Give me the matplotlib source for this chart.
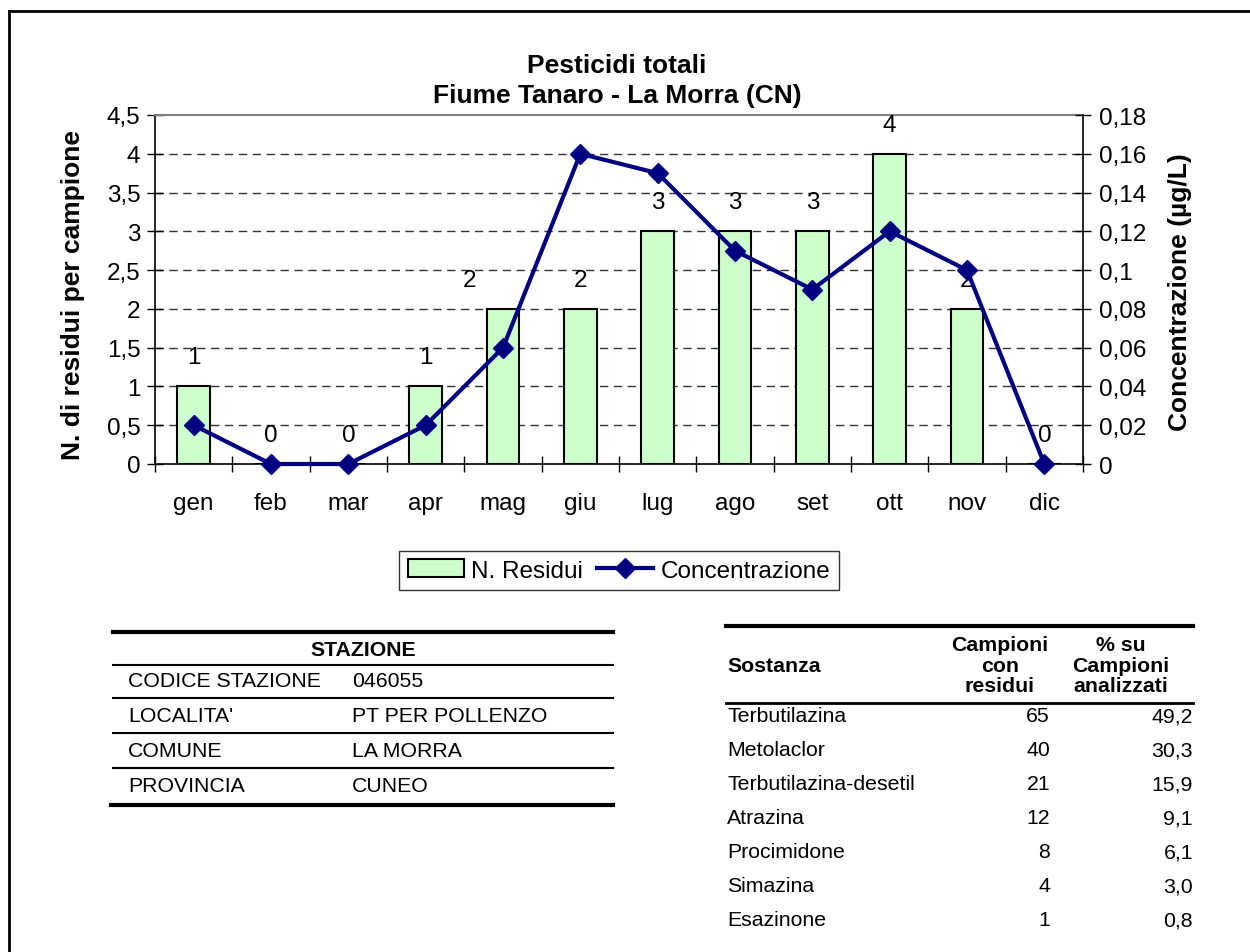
"""Pesticidi totali - Fiume Tanaro, La Morra (CN): residui e concentrazione mensile."""

import matplotlib

matplotlib.use("Agg")
import matplotlib.pyplot as plt
import numpy as np
from matplotlib.lines import Line2D

plt.rcParams["font.family"] = ["Liberation Sans", "DejaVu Sans"]

W, H = 1250, 953
_GREEN = "#ccffcc"
_NAVY = "#000080"

# data
mesi = ["gen", "feb", "mar", "apr", "mag", "giu", "lug", "ago", "set", "ott", "nov", "dic"]
n_residui = [1, 0, 0, 1, 2, 2, 3, 3, 3, 4, 2, 0]
concentrazione = [0.02, 0.0, 0.0, 0.02, 0.06, 0.16, 0.15, 0.11, 0.09, 0.12, 0.10, 0.0]

stazione_campi = ["CODICE STAZIONE", "LOCALITA'", "COMUNE", "PROVINCIA"]
stazione_valori = ["046055", "PT PER POLLENZO", "LA MORRA", "CUNEO"]

sostanze = ["Terbutilazina", "Metolaclor", "Terbutilazina-desetil", "Atrazina",
            "Procimidone", "Simazina", "Esazinone"]
campioni_residui = [65, 40, 21, 12, 8, 4, 1]
perc_campioni = [49.2, 30.3, 15.9, 9.1, 6.1, 3.0, 0.8]

_TICK_FS = 17.5
_AXT_FS = 19
_TAB_FS = 15.3


def fx(px):
    return px / W


def fy(py):
    return 1 - py / H


def hline(fig, x0, x1, y, lw):
    fig.add_artist(Line2D([fx(x0), fx(x1)], [fy(y), fy(y)], color="black",
                          linewidth=lw, transform=fig.transFigure))


def comma(v):
    return f"{v:g}".replace(".", ",")


fig = plt.figure(figsize=(W / 100, H / 100), dpi=100)
fig.patch.set_facecolor("white")

# outer frame (top and left edges only are visible)
fig.add_artist(Line2D([fx(9), fx(1250)], [fy(12), fy(12)], color="black",
                      linewidth=2, transform=fig.transFigure))
fig.add_artist(Line2D([fx(9), fx(9)], [fy(12), fy(953)], color="black",
                      linewidth=2, transform=fig.transFigure))

ax = fig.add_axes([fx(155), fy(465), (1083 - 155) / W, (465 - 116) / H])
x = np.arange(len(mesi))
bars = ax.bar(x, n_residui, width=0.42, color=_GREEN, edgecolor="black",
              linewidth=1.5, zorder=3)
ax.set_xlim(-0.5, len(mesi) - 0.5)
ax.set_ylim(0, 4.5)

left_ticks = np.round(np.arange(0, 4.51, 0.5), 2)
ax.set_yticks(left_ticks)
ax.set_yticklabels([comma(v) for v in left_ticks], fontsize=_TICK_FS)
for v in left_ticks[1:-1]:
    ax.axhline(v, color="#333333", linewidth=1, linestyle=(0, (6, 4)), zorder=1)

ax.set_xticks(x)
ax.set_xticklabels(mesi, fontsize=_TICK_FS)
ax.set_xticks(np.arange(-0.5, len(mesi)), minor=True)
ax.tick_params(axis="x", which="major", length=0, pad=20)
ax.tick_params(axis="x", which="minor", direction="inout", length=11, width=1)
ax.tick_params(axis="y", direction="inout", length=11, width=1, pad=5)

for s in ("left", "bottom"):
    ax.spines[s].set_linewidth(1.2)
ax.spines["right"].set_visible(False)
ax.spines["top"].set_color("#808080")
ax.spines["top"].set_linewidth(1.5)

# labels above the bars; the "mag" label sits shifted left as in the original
label_shift = {4: -0.43}
for i, v in enumerate(n_residui):
    ax.annotate(str(v), (x[i] + label_shift.get(i, 0), v), xytext=(0, 21),
                textcoords="offset points", ha="center", va="center",
                fontsize=_TICK_FS, annotation_clip=False, zorder=5)

ax2 = ax.twinx()
(line,) = ax2.plot(x, concentrazione, color=_NAVY, linewidth=3, marker="D",
                   markersize=10.5, zorder=4, clip_on=False)
ax2.set_ylim(0, 0.18)
right_ticks = np.round(np.linspace(0, 0.18, 10), 2)
ax2.set_yticks(right_ticks)
ax2.set_yticklabels([comma(v) for v in right_ticks], fontsize=_TICK_FS)
ax2.tick_params(axis="y", direction="inout", length=11, width=1, pad=6)
ax2.spines["right"].set_linewidth(1.2)
for s in ("left", "top", "bottom"):
    ax2.spines[s].set_visible(False)

fig.text(fx(617), fy(81), "Pesticidi totali\nFiume Tanaro - La Morra (CN)",
         ha="center", va="center", fontsize=19, fontweight="bold", linespacing=1.3)
fig.text(fx(73), fy(295), "N. di residui per campione", rotation=90,
         ha="center", va="center", fontsize=_AXT_FS, fontweight="bold")
fig.text(fx(1180), fy(292), "Concentrazione (µg/L)", rotation=90,
         ha="center", va="center", fontsize=_AXT_FS, fontweight="bold")

leg = fig.legend([bars, line], ["N. Residui", "Concentrazione"], loc="center",
                 bbox_to_anchor=(fx(619), fy(571.5)), ncol=2, fontsize=_TICK_FS,
                 frameon=True, fancybox=False, edgecolor="black",
                 handlelength=2.3, handletextpad=0.3, columnspacing=0.6,
                 borderpad=0.35, borderaxespad=0)
leg.get_frame().set_linewidth(1)

# station table
hline(fig, 113, 613, 633, 3)
fig.text(fx(363), fy(650), "STAZIONE", ha="center", va="center",
         fontsize=_TAB_FS, fontweight="bold")
hline(fig, 113, 613, 666, 1.5)
for i, (campo, valore) in enumerate(zip(stazione_campi, stazione_valori)):
    yy = 682 + 35 * i
    fig.text(fx(128), fy(yy), campo, ha="left", va="center", fontsize=_TAB_FS)
    fig.text(fx(352), fy(yy), valore, ha="left", va="center", fontsize=_TAB_FS)
    if i < len(stazione_campi) - 1:
        hline(fig, 113, 613, yy + 17, 1.5)
hline(fig, 111, 613, 806, 3)

# substances table
hline(fig, 726, 1193, 627, 3)
fig.text(fx(727), fy(667), "Sostanza", ha="left", va="center",
         fontsize=_TAB_FS, fontweight="bold")
fig.text(fx(1000), fy(666), "Campioni\ncon\nresidui", ha="center", va="center",
         fontsize=_TAB_FS, fontweight="bold", linespacing=1.12)
fig.text(fx(1121), fy(666), "% su\nCampioni\nanalizzati", ha="center", va="center",
         fontsize=_TAB_FS, fontweight="bold", linespacing=1.12)
hline(fig, 726, 1193, 704, 2)
for i, (nome, n, p) in enumerate(zip(sostanze, campioni_residui, perc_campioni)):
    yy = 717 + 34 * i
    fig.text(fx(727), fy(yy), nome, ha="left", va="center", fontsize=_TAB_FS)
    fig.text(fx(1050), fy(yy), str(n), ha="right", va="center", fontsize=_TAB_FS)
    fig.text(fx(1193), fy(yy), f"{p:.1f}".replace(".", ","), ha="right",
             va="center", fontsize=_TAB_FS)

fig.savefig("out.png", dpi=100, facecolor="white")
